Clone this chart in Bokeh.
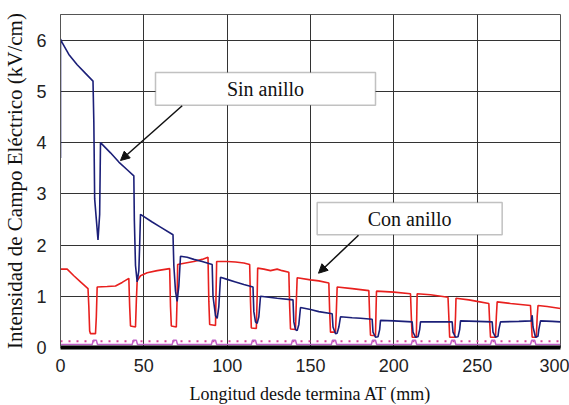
from bokeh.plotting import figure
from bokeh.models import Range1d, FixedTicker, BoxAnnotation, Label, Arrow, NormalHead
from bokeh.embed import file_html
from bokeh.resources import INLINE

# ---- data ----
sin_x = [0, 0, 1, 5, 10, 15, 19.5, 20, 20.5, 21.5, 22.5, 23.5, 24,
         30, 35, 40, 44, 44.3, 45, 46, 47, 47.5, 48,
         55, 60, 67.5, 68, 69, 70, 71, 72,
         76, 80, 85, 91, 91.5, 93, 94, 95, 96,
         100, 105, 110, 115.5, 116, 117, 118, 119, 120,
         125, 130, 139.5, 140, 141, 142, 143, 144,
         150, 155, 163, 163.5, 165, 166, 167, 168,
         175, 180, 187, 187.5, 189, 190.5, 191.5, 192,
         200, 211, 211.5, 213, 214.5, 215.5, 216,
         225, 235, 235.5, 237, 238.5, 239.5, 240,
         250, 259, 259.5, 261, 262.5, 263, 264,
         275, 282.5, 283, 283.5, 285, 286.5, 287, 288,
         295, 300]
sin_y = [3.7, 6.02, 5.95, 5.72, 5.52, 5.35, 5.2, 4.4, 2.9, 2.5, 2.1, 2.6, 4.0,
         3.8, 3.62, 3.47, 3.35, 2.5, 1.6, 1.28, 1.5, 2.0, 2.6,
         2.45, 2.35, 2.2, 1.6, 1.1, 0.9, 1.2, 1.78,
         1.76, 1.72, 1.68, 1.62, 1.0, 0.62, 0.57, 0.8, 1.37,
         1.33, 1.28, 1.23, 1.18, 0.7, 0.5, 0.47, 0.6, 1.0,
         0.98, 0.96, 0.93, 0.5, 0.35, 0.33, 0.45, 0.78,
         0.74, 0.7, 0.66, 0.4, 0.27, 0.28, 0.4, 0.6,
         0.58, 0.57, 0.55, 0.3, 0.2, 0.21, 0.35, 0.53,
         0.52, 0.5, 0.3, 0.2, 0.21, 0.35, 0.5,
         0.5, 0.5, 0.3, 0.2, 0.21, 0.35, 0.52,
         0.51, 0.5, 0.3, 0.2, 0.22, 0.35, 0.5,
         0.51, 0.52, 0.63, 0.4, 0.2, 0.22, 0.35, 0.52,
         0.51, 0.5]

con_x = [0, 4, 8, 12, 16.5, 17, 17.5, 18, 21, 21.5, 22,
         28, 33, 37, 41, 41.5, 42, 45, 45.5, 46,
         48, 52, 58, 65.5, 66, 66.5, 69.5, 70, 70.3,
         75, 80, 85, 88.5, 89, 89.5, 93, 93.3, 93.7,
         100, 105, 110, 113.5, 114, 114.5, 117.5, 118, 118.3,
         122, 126, 130, 133, 137, 137.5, 138, 141, 141.5, 142,
         150, 155, 161, 161.5, 162, 165, 165.5, 166,
         175, 185, 185.5, 186, 189, 189.3, 189.6,
         200, 210, 210.5, 211, 213.5, 213.8, 214,
         222, 232.5, 233, 233.5, 236.5, 237, 237.3,
         245, 250, 257, 257.5, 258, 261, 261.5, 262,
         270, 276, 282, 282.5, 283, 285.5, 286, 286.5,
         292, 296, 300]
con_y = [1.53, 1.53, 1.4, 1.28, 1.15, 0.8, 0.32, 0.27, 0.27, 0.6, 1.18,
         1.19, 1.2, 1.27, 1.35, 0.8, 0.42, 0.4, 0.9, 1.3,
         1.4, 1.46, 1.5, 1.54, 0.8, 0.42, 0.4, 1.0, 1.62,
         1.65, 1.68, 1.72, 1.76, 0.9, 0.45, 0.43, 1.0, 1.68,
         1.68, 1.67, 1.65, 1.62, 0.9, 0.38, 0.37, 1.0, 1.55,
         1.53, 1.5, 1.53, 1.5, 1.47, 0.8, 0.36, 0.35, 0.9, 1.36,
         1.32, 1.3, 1.26, 0.7, 0.3, 0.3, 0.7, 1.18,
         1.15, 1.11, 0.6, 0.24, 0.23, 0.7, 1.1,
         1.08, 1.05, 0.6, 0.2, 0.2, 0.7, 1.05,
         1.03, 0.98, 0.6, 0.2, 0.2, 0.6, 0.96,
         0.93, 0.9, 0.86, 0.5, 0.2, 0.2, 0.6, 0.89,
         0.86, 0.84, 0.82, 0.5, 0.2, 0.2, 0.6, 0.82,
         0.8, 0.78, 0.76]

ref_x = [0, 19, 19.7, 21.5, 22.2, 43, 43.7, 45.5, 46.2, 67, 67.7, 69.5, 70.2,
         90.5, 91.2, 93, 93.7, 114.5, 115.2, 117, 117.7, 138.5, 139.2, 141, 141.7,
         162.5, 163.2, 165, 165.7, 186.5, 187.2, 189, 189.7, 210.5, 211.2, 213, 213.7,
         234, 234.7, 236.5, 237.2, 258, 258.7, 260.5, 261.2, 282, 282.7, 284.5, 285.2, 300]
ref_y = [0.06, 0.06, 0.14, 0.14, 0.06, 0.06, 0.14, 0.14, 0.06, 0.06, 0.14, 0.14, 0.06,
         0.06, 0.14, 0.14, 0.06, 0.06, 0.14, 0.14, 0.06, 0.06, 0.14, 0.14, 0.06,
         0.06, 0.14, 0.14, 0.06, 0.06, 0.14, 0.14, 0.06, 0.06, 0.14, 0.14, 0.06,
         0.06, 0.14, 0.14, 0.06, 0.06, 0.14, 0.14, 0.06, 0.06, 0.14, 0.14, 0.06, 0.06]

dot_x = [0, 300]
dot_y = [0.12, 0.12]

x_ticks = [0, 50, 100, 150, 200, 250, 300]
y_ticks = [0, 1, 2, 3, 4, 5, 6]

SERIF = "Liberation Serif"
SANS = "Liberation Sans"

p = figure(frame_width=500, frame_height=333, output_backend="svg", toolbar_location=None,
           x_range=Range1d(0, 300), y_range=Range1d(0, 6.5),
           min_border_left=60, min_border_right=9, min_border_top=14, min_border_bottom=58)
p.background_fill_color = "white"
p.outline_line_color = "#555555"
p.outline_line_width = 1

p.xaxis.ticker = FixedTicker(ticks=x_ticks)
p.yaxis.ticker = FixedTicker(ticks=y_ticks)
for ax in (p.xaxis[0], p.yaxis[0]):
    ax.major_tick_in = 0
    ax.major_tick_out = 0
    ax.minor_tick_in = 0
    ax.minor_tick_out = 0
    ax.major_label_text_font = SANS
    ax.major_label_text_font_size = "18px"
    ax.major_label_text_color = "#222222"
    ax.axis_label_text_font = SERIF
    ax.axis_label_text_font_style = "normal"
    ax.axis_label_text_color = "#111111"

p.xaxis.axis_label_text_font_size = "18px"
p.yaxis.axis_label_text_font_size = "21px"
p.xaxis.axis_line_width = 4
p.xaxis.axis_line_color = "black"
p.yaxis.axis_line_color = "#555555"
p.xaxis.major_label_standoff = 11
p.yaxis.major_label_standoff = 14
p.xaxis.axis_label = "Longitud desde termina AT (mm)"
p.yaxis.axis_label = "Intensidad de Campo Eléctrico (kV/cm)"
p.xaxis.axis_label_standoff = 9
p.yaxis.axis_label_standoff = 6

p.xgrid.grid_line_color = "#333333"
p.ygrid.grid_line_color = "#333333"
p.xgrid.grid_line_width = 1
p.ygrid.grid_line_width = 1

p.line(dot_x, dot_y, line_color="#d8449c", line_width=2, line_dash="2 6")
p.line(ref_x, ref_y, line_color="#c060c8", line_width=1.5)
p.line(con_x, con_y, line_color="#e8201e", line_width=1.6)
p.line(sin_x, sin_y, line_color="#1b1f78", line_width=1.6)

# annotation boxes
p.add_layout(BoxAnnotation(left=57, right=189, bottom=4.73, top=5.37,
                           fill_color="white", fill_alpha=1,
                           line_color="#333333", line_width=1.5))
p.add_layout(Label(x=123, y=5.05, text="Sin anillo", text_font=SERIF,
                   text_font_size="20px", text_align="center", text_baseline="middle",
                   text_color="#111111"))
p.add_layout(BoxAnnotation(left=154, right=265, bottom=2.2, top=2.83,
                           fill_color="white", fill_alpha=1,
                           line_color="#333333", line_width=1.5))
p.add_layout(Label(x=209.5, y=2.515, text="Con anillo", text_font=SERIF,
                   text_font_size="20px", text_align="center", text_baseline="middle",
                   text_color="#111111"))

p.add_layout(Arrow(x_start=73, y_start=4.72, x_end=36, y_end=3.65,
                   line_color="#111111", line_width=1.5,
                   end=NormalHead(size=9, fill_color="#111111", line_color="#111111")))
p.add_layout(Arrow(x_start=178.8, y_start=2.19, x_end=154.8, y_end=1.45,
                   line_color="#111111", line_width=1.5,
                   end=NormalHead(size=9, fill_color="#111111", line_color="#111111")))

open("out.html", "w").write(file_html(p, INLINE))
